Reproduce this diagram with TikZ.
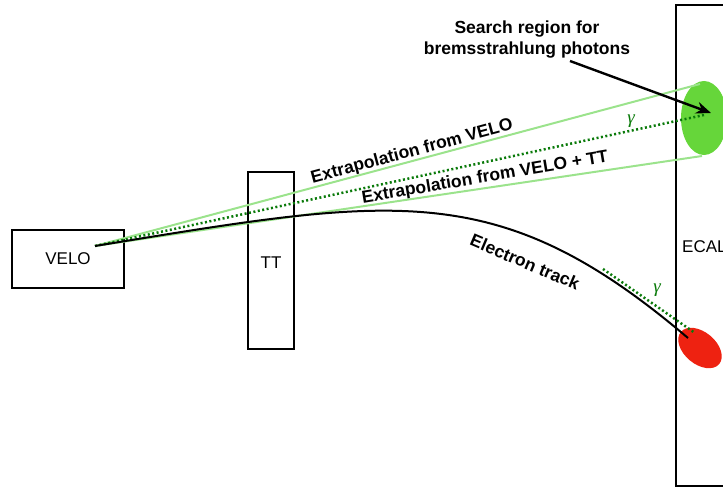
\documentclass[tikz,border=0pt]{standalone}
\usepackage{fontspec}
\setmainfont{Liberation Sans}
\newfontfamily\gamfont{Liberation Serif}
\usetikzlibrary{shapes.geometric,arrows.meta}
\definecolor{ballgreen}{HTML}{66D63A}
\definecolor{lightline}{HTML}{9BE38C}
\definecolor{darkdot}{HTML}{0A7A0A}
\definecolor{ballred}{HTML}{EE2211}
\begin{document}
\begin{tikzpicture}[x=1pt,y=-1pt,
  box/.style={draw,line width=2pt,inner sep=0pt,font=\fontsize{17}{19}\selectfont},
  lbl/.style={font=\fontsize{17.5}{19}\selectfont\bfseries,inner sep=0pt},
  gam/.style={text=darkdot,font=\gamfont\itshape\fontsize{19}{19}\selectfont,inner sep=0pt},
  extra/.style={lightline,line width=2pt},
  photon/.style={darkdot,line width=2.5pt,dash pattern=on 2pt off 2.5pt},
  track/.style={line width=2pt}]
\useasboundingbox (0,0) rectangle (723,487);
% detectors
\node[box,minimum width=112pt,minimum height=58pt] (velo) at (68,259) {VELO};
\node[box,minimum width=46pt,minimum height=177pt] (tt) at (271,260.5) {};
\node[font=\fontsize{17}{19}\selectfont,inner sep=0pt] (ttl) at (271,263) {TT};
\node[box,minimum width=64pt,minimum height=481pt] (ecal) at (708,245.5) {};
\node[font=\fontsize{17}{19}\selectfont,inner sep=0pt,anchor=west] (ecall) at (682,247) {ECAL};
% clusters
\node[ellipse,fill=ballgreen,minimum width=46pt,minimum height=74pt,inner sep=0pt] (gclus) at (704,118) {};
\node[ellipse,fill=ballred,minimum width=50pt,minimum height=32pt,inner sep=0pt,rotate=-40] (rclus) at (700,348) {};
% points
\coordinate (s) at (95,246);
\coordinate (gtop) at (700,84);
\coordinate (gbot) at (702,156);
\coordinate (gc) at (704,115);
\coordinate (tend) at (688,338);
\coordinate (tb) at (603,269);
\coordinate (pend) at (695,333);
\coordinate (astart) at (570,61);
\coordinate (atip) at (711,113);
% extrapolations
\draw[extra] (s) -- (gtop);
\draw[extra] (s) -- (gbot);
\draw[photon] (s) -- (gc);
% electron track
\draw[track] (s) .. controls (395,197) and (498,176.5) .. (tend);
\draw[photon] (tb) -- (pend);
% labels
\node[gam] (g1) at (631,121) {γ};
\node[gam] (g2) at (657,290) {γ};
\node[lbl,rotate=15] (l1) at (412,152) {Extrapolation from VELO};
\node[lbl,rotate=9.5] (l2) at (485,178) {Extrapolation from VELO + TT};
\node[lbl,rotate=-23] (l3) at (525,262) {Electron track};
\node[lbl,align=center,font=\fontsize{17.5}{21}\selectfont\bfseries] (search) at (527,40) {Search region for\\bremsstrahlung photons};
\draw[line width=2.4pt,-{Stealth[length=15pt,width=12pt]}] (astart) -- (atip);
\end{tikzpicture}
\end{document}
